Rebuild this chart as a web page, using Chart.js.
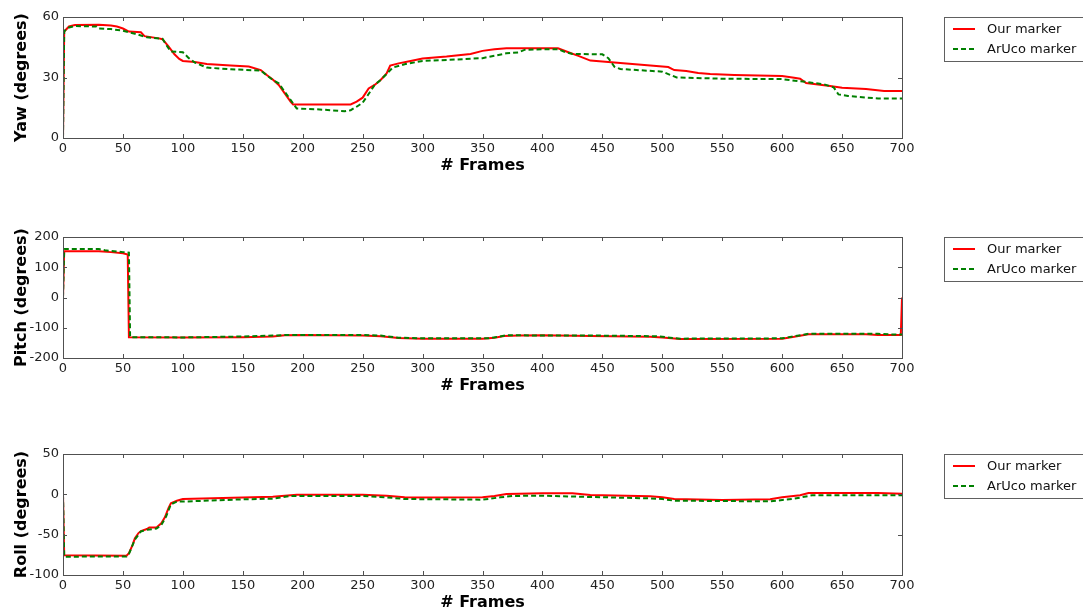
<!DOCTYPE html>
<html>
<head>
<meta charset="utf-8">
<title>Yaw / Pitch / Roll</title>
<script src="https://cdn.jsdelivr.net/npm/chart.js@4.4.1/dist/chart.umd.min.js"></script>
<style>
    html, body { margin: 0; padding: 0; background: #ffffff; }
    body { width: 1083px; height: 613px; position: relative; overflow: hidden; }
    .panel { position: absolute; left: 0; width: 1083px; height: 190px; }
    #panelYaw { top: 0; }
    #panelPitch { top: 220px; }
    #panelRoll { top: 437px; }
</style>
</head>
<body>
<div class="panel" id="panelYaw"><canvas id="yawChart" width="1083" height="190"></canvas></div>
<div class="panel" id="panelPitch"><canvas id="pitchChart" width="1083" height="190"></canvas></div>
<div class="panel" id="panelRoll"><canvas id="rollChart" width="1083" height="190"></canvas></div>

<script>
// Etichette serie
const seriesLabels = ['Our marker', 'ArUco marker'];

// Tick asse X (frame)
const frameTicks = [0, 50, 100, 150, 200, 250, 300, 350, 400, 450, 500, 550, 600, 650, 700];

// Tick asse Y per ogni pannello
const yawTicks = [0, 30, 60];
const pitchTicks = [-200, -100, 0, 100, 200];
const rollTicks = [-100, -50, 0, 50];

// Yaw - Our marker
const yawOursFrames = [0, 1, 5, 10, 30, 40, 45, 50, 55, 65, 68, 80, 83, 88, 93, 97, 100, 110, 120, 140, 155, 165, 170, 175, 180, 185, 190, 192, 240, 245, 250, 255, 260, 265, 270, 273, 280, 290, 300, 320, 340, 350, 360, 370, 380, 400, 413, 420, 430, 440, 450, 460, 475, 490, 505, 510, 520, 530, 540, 560, 600, 610, 615, 620, 640, 650, 670, 685, 700];
const yawOurs = [0, 52.8, 55.3, 56, 56.2, 55.8, 55.3, 54.3, 52.8, 52.4, 50.5, 49.4, 49, 45.4, 41.5, 39.2, 38.2, 37.7, 36.7, 36, 35.4, 33.7, 31.2, 29, 26.3, 22.1, 17.9, 16.6, 16.6, 18, 20, 24.6, 26.3, 28.8, 32, 35.9, 37, 38.2, 39.4, 40.4, 41.7, 43.2, 44, 44.5, 44.5, 44.5, 44.5, 42.9, 40.7, 38.4, 37.9, 37.4, 36.7, 35.9, 35.2, 33.7, 33.2, 32.2, 31.7, 31.2, 30.7, 29.9, 29.4, 27.3, 25.8, 24.9, 24.3, 23.3, 23.3];

// Yaw - ArUco marker
const yawArucoFrames = [0, 1, 5, 10, 28, 30, 40, 50, 60, 70, 83, 87, 90, 100, 105, 110, 120, 140, 165, 175, 180, 185, 190, 195, 210, 235, 240, 245, 250, 255, 260, 265, 270, 275, 285, 300, 320, 350, 370, 380, 385, 400, 413, 420, 425, 450, 455, 460, 465, 500, 505, 512, 550, 600, 615, 620, 635, 643, 647, 655, 680, 700];
const yawAruco = [0, 53, 54.8, 55.5, 55.3, 54.3, 54, 53.2, 51.7, 49.9, 49.2, 45.4, 42.9, 42.5, 39.6, 37.4, 34.9, 34.1, 33.4, 28.8, 27.1, 22.9, 18.8, 14.6, 14.3, 13.3, 13.8, 15.5, 17.5, 21.8, 26.3, 28.8, 31.7, 34.9, 36.6, 38.2, 38.7, 39.6, 42, 42.4, 43.7, 44, 44, 42.4, 41.7, 41.5, 39.6, 35.4, 34.2, 32.9, 31.7, 30, 29.4, 29.2, 28.1, 27.8, 26.6, 25.1, 21.6, 20.8, 19.6, 19.6];

// Pitch - Our marker
const pitchOursFrames = [0, 1, 30, 40, 50, 54, 55, 100, 150, 175, 185, 200, 250, 265, 280, 300, 350, 360, 368, 380, 400, 440, 490, 500, 515, 600, 610, 622, 670, 680, 699, 700];
const pitchOurs = [0, 153, 153, 150, 146, 142, -131.5, -132.6, -131.5, -129, -125, -124, -126, -128, -133.7, -136, -136, -133, -127, -126, -125, -127, -130, -132.6, -137, -136, -130, -121.5, -121.5, -124, -124, 0];

// Pitch - ArUco marker
const pitchArucoFrames = [0, 1, 30, 35, 50, 55, 56, 100, 150, 175, 185, 250, 265, 280, 300, 355, 370, 450, 495, 515, 600, 622, 680, 690, 700];
const pitchAruco = [0, 160, 160, 156, 150, 148, -131, -132, -129, -126, -124, -124, -126, -133, -135, -135, -125, -126, -128, -136, -135, -120, -120, -122, -122];

// Roll - Our marker
const rollOursFrames = [0, 1, 53, 55, 58, 60, 63, 65, 70, 72, 78, 82, 85, 88, 90, 95, 100, 150, 175, 195, 250, 270, 285, 300, 350, 360, 370, 400, 425, 440, 490, 500, 510, 550, 590, 600, 615, 622, 680, 700];
const rollOurs = [0, -75.5, -76, -73, -63, -54.5, -48, -45.5, -43, -41, -41, -36, -28.5, -17, -11, -8, -5.8, -4, -3, -0.4, -0.5, -1.7, -3.7, -4, -3.7, -2, 0.4, 1.2, 1.2, -0.8, -2.5, -3.7, -5.8, -7, -6.2, -3.7, -1.2, 1.7, 1.7, 0.8];

// Roll - ArUco marker
const rollArucoFrames = [0, 1, 53, 55, 60, 65, 70, 78, 82, 86, 90, 95, 100, 150, 175, 190, 250, 270, 285, 350, 365, 375, 400, 430, 490, 500, 510, 590, 610, 625, 700];
const rollAruco = [0, -77.3, -77, -74, -56, -46, -44, -42.5, -38, -27.7, -12.4, -9, -9, -6.2, -5.4, -2, -2, -3.7, -5.8, -6.6, -3.7, -2, -1.7, -2.9, -5, -5.8, -7.9, -8.7, -5.4, -1.2, -1.2];

const FONT = '"DejaVu Sans", "Liberation Sans", sans-serif';
const FRAME_COLOR = '#505050';
const OURS_COLOR = '#ff0000';
const ARUCO_COLOR = '#008000';
const ARUCO_DASH = [5, 3];

/**
 * Converte due array (frame, valori) in punti {x, y}
 */
function toPoints(frames, values) {
    return frames.map((f, i) => ({ x: f, y: values[i] }));
}

/**
 * Cornice stile matplotlib con tacche interne su tutti e quattro i lati
 */
const frameTicksPlugin = {
    id: 'frameTicks',
    afterDraw(chart) {
        const { ctx, chartArea: a, scales } = chart;
        const len = 4;
        ctx.save();
        ctx.strokeStyle = FRAME_COLOR;
        ctx.lineWidth = 1;
        ctx.setLineDash([]);

        ctx.beginPath();
        scales.x.ticks.forEach(t => {
            const px = Math.round(scales.x.getPixelForValue(t.value)) + 0.5;
            ctx.moveTo(px, a.bottom);
            ctx.lineTo(px, a.bottom - len);
            ctx.moveTo(px, a.top);
            ctx.lineTo(px, a.top + len);
        });
        scales.y.ticks.forEach(t => {
            const py = Math.round(scales.y.getPixelForValue(t.value)) + 0.5;
            ctx.moveTo(a.left, py);
            ctx.lineTo(a.left + len, py);
            ctx.moveTo(a.right, py);
            ctx.lineTo(a.right - len, py);
        });
        ctx.stroke();

        ctx.strokeRect(Math.round(a.left) + 0.5, Math.round(a.top) + 0.5,
            Math.round(a.right - a.left), Math.round(a.bottom - a.top));
        ctx.restore();
    }
};

/**
 * Legenda con bordo a destra del grafico
 */
const boxLegendPlugin = {
    id: 'boxLegend',
    afterDraw(chart) {
        const ctx = chart.ctx;
        const top = Math.round(chart.chartArea.top);
        const left = 944;

        ctx.save();
        ctx.fillStyle = '#ffffff';
        ctx.fillRect(left, top, 160, 44);
        ctx.strokeStyle = '#606060';
        ctx.lineWidth = 1;
        ctx.strokeRect(left + 0.5, top + 0.5, 160, 44);

        ctx.font = '13px ' + FONT;
        ctx.textBaseline = 'middle';
        ctx.textAlign = 'left';

        chart.data.datasets.forEach((ds, i) => {
            const y = top + 12 + i * 20;
            ctx.beginPath();
            ctx.strokeStyle = ds.borderColor;
            ctx.lineWidth = 2;
            ctx.setLineDash(ds.borderDash || []);
            ctx.moveTo(953, y);
            ctx.lineTo(975, y);
            ctx.stroke();
            ctx.setLineDash([]);
            ctx.fillStyle = '#111111';
            ctx.fillText(ds.label, 987, y + 1);
        });
        ctx.restore();
    }
};

/**
 * Crea uno dei tre pannelli (yaw, pitch, roll)
 */
function makePanel(canvasId, yTitle, yTicks, oursFrames, ours, arucoFrames, aruco) {
    const ctx = document.getElementById(canvasId);
    if (!ctx) {
        console.error('Canvas #' + canvasId + ' non trovato.');
        return;
    }

    const yStep = yTicks[1] - yTicks[0];

    new Chart(ctx, {
        type: 'line',
        data: {
            datasets: [
                {
                    label: seriesLabels[0],
                    data: toPoints(oursFrames, ours),
                    borderColor: OURS_COLOR,
                    backgroundColor: OURS_COLOR,
                    borderWidth: 2,
                    pointRadius: 0,
                    tension: 0,
                    order: 1
                },
                {
                    label: seriesLabels[1],
                    data: toPoints(arucoFrames, aruco),
                    borderColor: ARUCO_COLOR,
                    backgroundColor: ARUCO_COLOR,
                    borderWidth: 2,
                    borderDash: ARUCO_DASH,
                    pointRadius: 0,
                    tension: 0,
                    order: 0
                }
            ]
        },
        options: {
            responsive: false,
            animation: false,
            layout: {
                padding: { left: 0, right: 181, top: 17, bottom: 12 }
            },
            plugins: {
                legend: { display: false },
                tooltip: { enabled: false }
            },
            scales: {
                x: {
                    type: 'linear',
                    min: frameTicks[0],
                    max: frameTicks[frameTicks.length - 1],
                    afterBuildTicks: scale => {
                        scale.ticks = frameTicks.map(v => ({ value: v }));
                    },
                    afterFit: scale => { scale.height = 40; },
                    grid: { display: false, drawTicks: false },
                    border: { display: false },
                    ticks: {
                        autoSkip: false,
                        maxRotation: 0,
                        padding: 3,
                        color: '#222222',
                        font: { family: FONT, size: 13 }
                    },
                    title: {
                        display: true,
                        text: '# Frames',
                        color: '#000000',
                        padding: { top: 0, bottom: 3 },
                        font: { family: FONT, size: 16, weight: 'bold' }
                    }
                },
                y: {
                    type: 'linear',
                    min: yTicks[0],
                    max: yTicks[yTicks.length - 1],
                    afterBuildTicks: scale => {
                        scale.ticks = yTicks.map(v => ({ value: v }));
                    },
                    afterFit: scale => { scale.width = 63; },
                    grid: { display: false, drawTicks: false },
                    border: { display: false },
                    ticks: {
                        stepSize: yStep,
                        padding: 4,
                        color: '#222222',
                        font: { family: FONT, size: 13 }
                    },
                    title: {
                        display: true,
                        text: yTitle,
                        color: '#000000',
                        padding: { top: 12, bottom: 0 },
                        font: { family: FONT, size: 16, weight: 'bold' }
                    }
                }
            }
        },
        plugins: [frameTicksPlugin, boxLegendPlugin]
    });
}

document.addEventListener('DOMContentLoaded', function() {
    makePanel('yawChart', 'Yaw (degrees)', yawTicks, yawOursFrames, yawOurs, yawArucoFrames, yawAruco);
    makePanel('pitchChart', 'Pitch (degrees)', pitchTicks, pitchOursFrames, pitchOurs, pitchArucoFrames, pitchAruco);
    makePanel('rollChart', 'Roll (degrees)', rollTicks, rollOursFrames, rollOurs, rollArucoFrames, rollAruco);
});
</script>
</body>
</html>
